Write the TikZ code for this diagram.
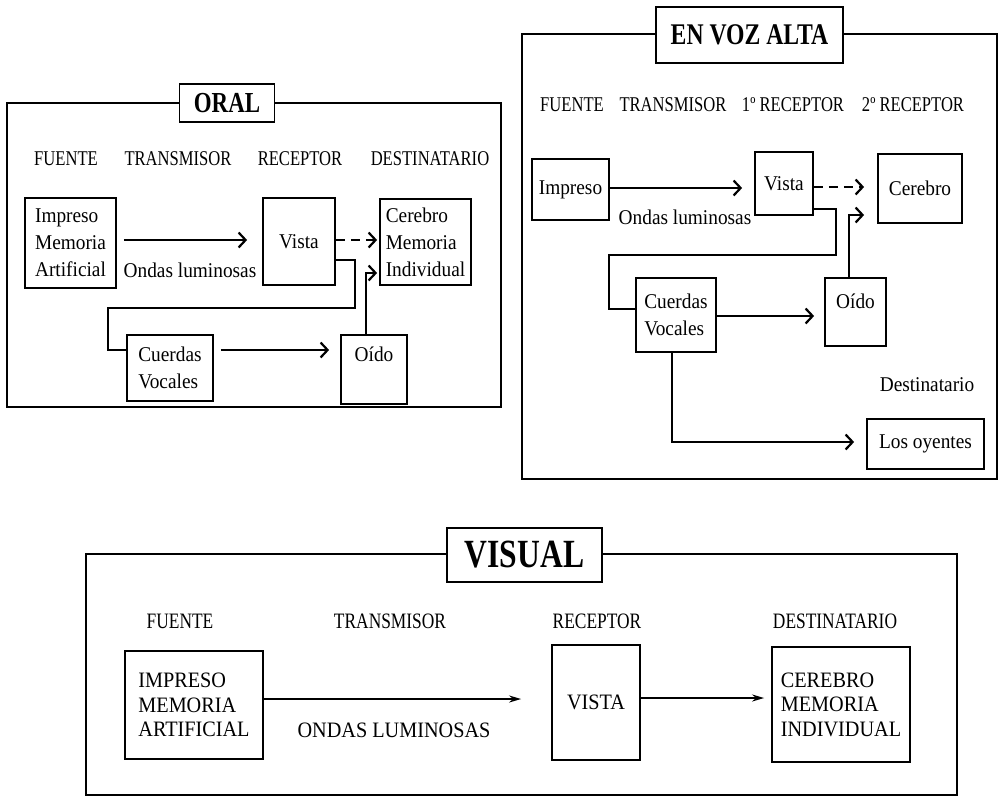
\documentclass[tikz,border=0pt]{standalone}
\usepackage{fontspec}
\setmainfont{Liberation Serif}[FakeStretch=0.92]
\newfontfamily\capsfont{Liberation Serif}[FakeStretch=0.79]
\usetikzlibrary{arrows.meta}

\begin{document}
\begin{tikzpicture}[x=1pt,y=-1pt,
	frame/.style={line width=1.5pt},
	box/.style={draw,line width=1.8pt,align=left,inner sep=0pt,font=\fontsize{21}{27}\selectfont},
	bigbox/.style={draw,line width=1.8pt,align=left,inner sep=0pt,font=\fontsize{22}{24.5}\selectfont},
	titlebox/.style={draw,fill=white,line width=1.6pt,inner sep=0pt,font=\capsfont\bfseries},
	head/.style={font=\capsfont\fontsize{21}{25}\selectfont},
	bighead/.style={font=\capsfont\fontsize{22}{25}\selectfont},
	lbl/.style={font=\fontsize{21}{25}\selectfont},
	biglbl/.style={font=\fontsize{22}{25}\selectfont},
	arr/.style={line width=2.2pt,-{Straight Barb[length=7pt,width=15pt]}},
	elbow/.style={line width=2pt},
	varr/.style={line width=2pt,-{Stealth[length=12pt,width=7pt]}}]
	\useasboundingbox (0,0) rectangle (1000,801);

	\draw[frame] (7,103) rectangle (501,407);
	\node[titlebox,minimum width=95,minimum height=38,font=\capsfont\bfseries\fontsize{29}{30}\selectfont] (oral) at (227,103) {ORAL};
	\node[head] (fuenteA) at (66,159) {FUENTE};
	\node[head] (transA) at (178,159) {TRANSMISOR};
	\node[head] (recepA) at (300,159) {RECEPTOR};
	\node[head] (destA) at (430,159) {DESTINATARIO};
	\node[box,minimum width=91,minimum height=90] (impA) at (70.5,243) {Impreso\\Memoria\\Artificial};
	\node[box,minimum width=72,minimum height=87] (vistaA) at (299,241.5) {Vista};
	\node[box,minimum width=91,minimum height=86] (cerebroA) at (425.5,242) {Cerebro\\Memoria\\Individual};
	\node[box,minimum width=86,minimum height=66] (cuerdasA) at (170,368) {Cuerdas\\Vocales};
	\node[box,minimum width=66,minimum height=69,text depth=31pt] (oidoA) at (374,369.5) {Oído};
	\node[lbl] (ondasA) at (190,270) {Ondas luminosas};
	\draw[arr,shorten <=7pt,shorten >=15pt] (impA.east |- 0,240) -- (vistaA.west |- 0,240);
	\draw[arr,dash pattern=on 9pt off 6pt,shorten >=2pt] (vistaA.east |- 0,240) -- (cerebroA.west |- 0,240);
	\draw[elbow] (vistaA.east |- 0,260) -| (355,308) -| (108,350) -- (cuerdasA.west |- 0,350);
	\draw[arr,shorten <=7pt,shorten >=11pt] (cuerdasA.east |- 0,350) -- (oidoA.west |- 0,350);
	\draw[arr,shorten >=2pt] (366,0 |- oidoA.north) |- (cerebroA.west |- 0,273);

	\draw[frame] (522,34) rectangle (997,479);
	\node[titlebox,minimum width=187,minimum height=56,font=\capsfont\bfseries\fontsize{30}{31}\selectfont] (vozalta) at (749.5,35) {EN VOZ ALTA};
	\node[head] (fuenteB) at (572,105) {FUENTE};
	\node[head] (transB) at (673,105) {TRANSMISOR};
	\node[head] (recep1B) at (793,105) {1º RECEPTOR};
	\node[head] (recep2B) at (913,105) {2º RECEPTOR};
	\node[box,minimum width=77,minimum height=61] (impB) at (570.5,189.5) {Impreso};
	\node[box,minimum width=58,minimum height=63] (vistaB) at (784,183.5) {Vista};
	\node[box,minimum width=84,minimum height=69] (cerebroB) at (920,188.5) {Cerebro};
	\node[box,minimum width=80,minimum height=74] (cuerdasB) at (676,315) {Cuerdas\\Vocales};
	\node[box,minimum width=61,minimum height=68,text depth=21pt] (oidoB) at (855.5,312) {Oído};
	\node[box,minimum width=117,minimum height=50] (oyentesB) at (925.5,444) {Los oyentes};
	\node[lbl] (ondasB) at (685,217) {Ondas luminosas};
	\node[lbl] (destB) at (927,385) {Destinatario};
	\draw[arr,shorten >=12pt] (impB.east |- 0,188) -- (vistaB.west |- 0,188);
	\draw[arr,dash pattern=on 9pt off 6pt,shorten >=13pt] (vistaB.east |- 0,187) -- (cerebroB.west |- 0,187);
	\draw[elbow] (vistaB.east |- 0,209) -| (836,255) -| (609,309) -- (cuerdasB.west |- 0,309);
	\draw[arr,shorten >=10pt] (cuerdasB.east |- 0,316) -- (oidoB.west |- 0,316);
	\draw[arr,shorten >=13pt] (849,0 |- oidoB.north) |- (cerebroB.west |- 0,215);
	\draw[arr,shorten >=12pt] (672,0 |- cuerdasB.south) |- (oyentesB.west |- 0,442);

	\draw[frame] (86,554) rectangle (957,795);
	\node[titlebox,minimum width=155,minimum height=54,font=\capsfont\bfseries\fontsize{40}{41}\selectfont] (visual) at (524.5,555) {VISUAL};
	\node[bighead] (fuenteC) at (180,621) {FUENTE};
	\node[bighead] (transC) at (390,621) {TRANSMISOR};
	\node[bighead] (recepC) at (597,621) {RECEPTOR};
	\node[bighead] (destC) at (835,621) {DESTINATARIO};
	\node[bigbox,minimum width=138,minimum height=108] (impC) at (194,705) {IMPRESO\\MEMORIA\\ARTIFICIAL};
	\node[bigbox,minimum width=88,minimum height=115] (vistaC) at (596,702.5) {VISTA};
	\node[bigbox,minimum width=138,minimum height=115] (cerebroC) at (841,704.5) {CEREBRO\\MEMORIA\\INDIVIDUAL};
	\node[biglbl] (ondasC) at (394,730) {ONDAS LUMINOSAS};
	\path[varr]
	(impC.east |- 0,699) edge[shorten >=30pt] (vistaC.west |- 0,699)
	(vistaC.east |- 0,698) edge[shorten >=7pt] (cerebroC.west |- 0,698);
\end{tikzpicture}
\end{document}
